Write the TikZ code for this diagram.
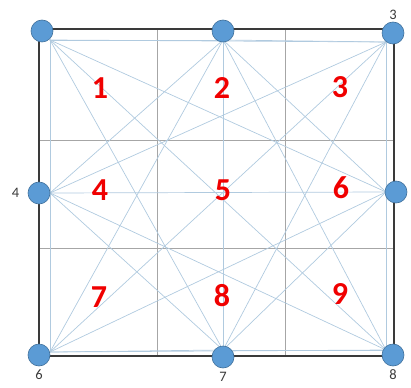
\documentclass[tikz,border=0pt]{standalone}
\usepackage{fontspec}
\setmainfont{Carlito}
\usetikzlibrary{positioning}
\definecolor{dotfill}{HTML}{5B9BD5}
\definecolor{dotline}{HTML}{41719C}
\definecolor{rayblue}{HTML}{B0CADF}
\definecolor{gridgray}{HTML}{A6A6A6}
\definecolor{framegray}{HTML}{3A3A3A}
\definecolor{cellred}{HTML}{F00000}
\begin{document}
\begin{tikzpicture}[x=1pt,y=-1pt,line cap=round,line join=round,
  dot/.style={circle,fill=dotfill,draw=dotline,line width=0.6pt,minimum size=22pt,inner sep=0pt},
  celllabel/.style={text=cellred,font=\fontsize{32}{34}\selectfont\bfseries},
  pointlabel/.style={text=framegray,font=\fontsize{14.5}{16}\selectfont}]
\useasboundingbox (0,0) rectangle (411,387);
% anchor points of the rays
\coordinate (p1) at (50,40);
\coordinate (p2) at (223,40);
\coordinate (p3) at (386,42);
\coordinate (p4) at (50,193);
\coordinate (p5) at (386,192);
\coordinate (p6) at (50,352);
\coordinate (p7) at (223,350);
\coordinate (p8) at (386,350);
% grid
\coordinate (g1) at (157,29);
\coordinate (g2) at (157,356);
\coordinate (g3) at (285,29);
\coordinate (g4) at (285,356);
\coordinate (g5) at (39,140);
\coordinate (g6) at (394,140);
\coordinate (g7) at (39,248);
\coordinate (g8) at (394,248);
\draw[gridgray,line width=0.9pt] (g1) -- (g2);
\draw[gridgray,line width=0.9pt] (g3) -- (g4);
\draw[gridgray,line width=0.9pt] (g5) -- (g6);
\draw[gridgray,line width=0.9pt] (g7) -- (g8);
% rays between all points
\foreach \a/\b in {1/2,1/3,1/4,1/5,1/6,1/7,1/8,
                   2/3,2/4,2/5,2/6,2/7,2/8,
                   3/4,3/5,3/6,3/7,3/8,
                   4/5,4/6,4/7,4/8,
                   5/6,5/7,5/8,
                   6/7,6/8,
                   7/8}
  \draw[rayblue,line width=0.7pt] (p\a) -- (p\b);
% frame
\coordinate (f1) at (39,29);
\coordinate (f2) at (394,356);
\draw[framegray,line width=1.6pt] (f1) rectangle (f2);
% dots
\node[dot] (c1) at (42,31) {};
\node[dot] (c2) at (223,31) {};
\node[dot] (c3) at (393,33) {};
\node[dot] (c4) at (39,193) {};
\node[dot] (c5) at (396,192) {};
\node[dot] (c6) at (39,355) {};
\node[dot] (c7) at (223,357) {};
\node[dot] (c8) at (393,355) {};
\node[pointlabel,above=-1pt of c3] (l3) {3};
\node[pointlabel,left=5pt of c4] (l4) {4};
\node[pointlabel,below=0pt of c6] (l6) {6};
\node[pointlabel,below=0pt of c7] (l7) {7};
\node[pointlabel,below=0pt of c8] (l8) {8};
% cell numbers
\node[celllabel] (n1) at (100,88) {1};
\node[celllabel] (n2) at (222,88) {2};
\node[celllabel] (n3) at (340,87) {3};
\node[celllabel] (n4) at (100,190) {4};
\node[celllabel] (n5) at (223,190) {5};
\node[celllabel] (n6) at (341,188) {6};
\node[celllabel] (n7) at (99,297) {7};
\node[celllabel] (n8) at (222,296) {8};
\node[celllabel] (n9) at (340,294) {9};
\end{tikzpicture}
\end{document}
